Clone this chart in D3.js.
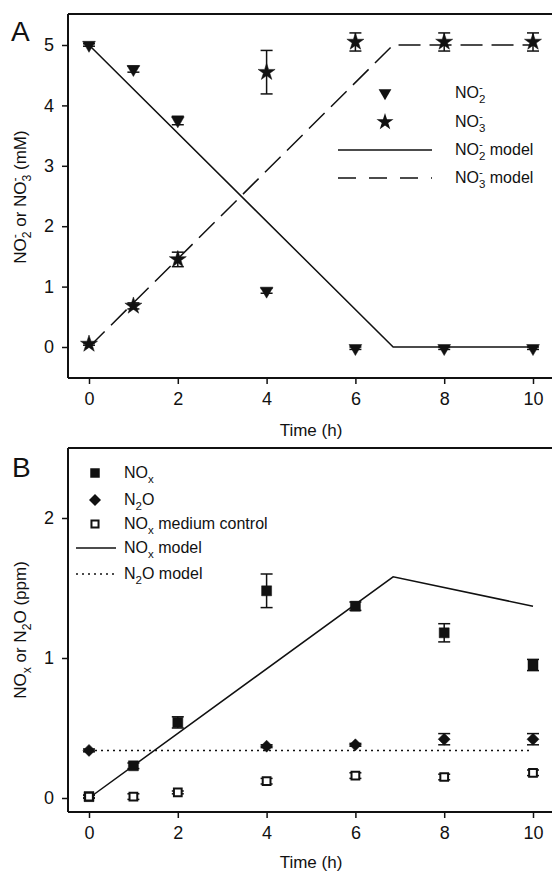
<!DOCTYPE html>
<html>
<head>
<meta charset="utf-8">
<script src="https://cdn.jsdelivr.net/npm/d3@7"></script>
<style>
  body { margin: 0; background: #fff; }
  text { font-family: "Liberation Sans", Arial, sans-serif; fill: #111; }
</style>
</head>
<body>
<script>
var width = 552, height = 872;

// time points (h)
var times = [0, 1, 2, 4, 6, 8, 10];
var xTicks = [0, 2, 4, 6, 8, 10];

// panel A, mM
var no2 = [5.0, 4.6, 3.75, 0.93, -0.02, -0.02, -0.02];
var no2Err = [0.02, 0.05, 0.07, 0.04, 0.02, 0.02, 0.02];
var no3 = [0.05, 0.68, 1.45, 4.55, 5.05, 5.05, 5.05];
var no3Err = [0.02, 0.05, 0.12, 0.36, 0.15, 0.15, 0.15];
var no2ModelT = [0, 6.85, 10];
var no2ModelV = [5, 0, 0];
var no3ModelT = [0, 6.85, 10];
var no3ModelV = [0, 5, 5];
var yTicksA = [0, 1, 2, 3, 4, 5];

// panel B, ppm
var nox = [0.01, 0.23, 0.54, 1.48, 1.37, 1.18, 0.95];
var noxErr = [0.01, 0.02, 0.04, 0.12, 0.03, 0.065, 0.04];
var n2oT = [0, 4, 6, 8, 10];
var n2o = [0.34, 0.37, 0.38, 0.42, 0.42];
var n2oErr = [0.01, 0.01, 0.01, 0.04, 0.04];
var ctrl = [0.01, 0.01, 0.04, 0.12, 0.16, 0.15, 0.18];
var ctrlErr = [0.01, 0.02, 0.01, 0.02, 0.02, 0.02, 0.02];
var noxModelT = [0, 6.85, 10];
var noxModelV = [0, 1.58, 1.37];
var n2oModelT = [0, 10];
var n2oModelV = [0.34, 0.34];
var yTicksB = [0, 1, 2];

var svg = d3.select("body").append("svg")
    .attr("width", width)
    .attr("height", height);

var x = d3.scaleLinear().domain([0, 10]).range([89, 533]);
var yA = d3.scaleLinear().domain([0, 5]).range([347, 45]);
var yB = d3.scaleLinear().domain([0, 2]).range([798, 518]);

function frame(g, top, bottom) {
  g.append("line").attr("x1", 68).attr("x2", width).attr("y1", top).attr("y2", top)
    .attr("stroke", "#111").attr("stroke-width", 2);
  g.append("line").attr("x1", 68).attr("x2", 68).attr("y1", top).attr("y2", bottom)
    .attr("stroke", "#111").attr("stroke-width", 2);
}

function axes(g, y, yTicks, bottom) {
  var xa = g.append("g").attr("transform", "translate(0," + bottom + ")")
    .call(d3.axisBottom(x).tickValues(xTicks).tickSize(6).tickPadding(8).tickFormat(d3.format("d")));
  xa.select(".domain").attr("d", "M68,0H" + width).attr("stroke-width", 2);
  var ya = g.append("g").attr("transform", "translate(68,0)")
    .call(d3.axisLeft(y).tickValues(yTicks).tickSize(6).tickPadding(8).tickFormat(d3.format("d")));
  ya.select(".domain").remove();
  g.selectAll(".tick line").attr("stroke", "#111").attr("stroke-width", 1.5);
  g.selectAll(".tick text").style("font-size", "18px").style("font-family", "Liberation Sans, Arial, sans-serif").attr("fill", "#111");
  g.selectAll(".domain").attr("stroke", "#111");
}

function errorBars(g, ts, vs, es, y) {
  var d = ts.map(function(t, i) { return {t: t, v: vs[i], e: es[i]}; });
  var eb = g.append("g").attr("stroke", "#111").attr("stroke-width", 1.5);
  eb.selectAll(".ev").data(d).enter().append("line")
    .attr("x1", function(d) { return x(d.t); }).attr("x2", function(d) { return x(d.t); })
    .attr("y1", function(d) { return y(d.v + d.e); }).attr("y2", function(d) { return y(d.v - d.e); });
  [1, -1].forEach(function(s) {
    eb.selectAll(".cap" + s).data(d).enter().append("line")
      .attr("x1", function(d) { return x(d.t) - 6; }).attr("x2", function(d) { return x(d.t) + 6; })
      .attr("y1", function(d) { return y(d.v + s * d.e); }).attr("y2", function(d) { return y(d.v + s * d.e); });
  });
}

function points(g, ts, vs, y, sym, size, rot, fill) {
  g.selectAll(null).data(ts).enter().append("path")
    .attr("d", d3.symbol().type(sym).size(size))
    .attr("transform", function(t, i) { return "translate(" + x(t) + "," + y(vs[i]) + ") rotate(" + rot + ")"; })
    .attr("fill", fill ? "#111" : "#fff")
    .attr("stroke", "#111")
    .attr("stroke-width", fill ? 0.5 : 2);
}

function modelLine(g, ts, vs, y, dash) {
  g.append("path")
    .datum(ts.map(function(t, i) { return [t, vs[i]]; }))
    .attr("d", d3.line().x(function(d) { return x(d[0]); }).y(function(d) { return y(d[1]); }))
    .attr("fill", "none").attr("stroke", "#111").attr("stroke-width", 1.5)
    .attr("stroke-dasharray", dash);
}

// chemical label: "sub" lowered, "ion" = superscript minus stacked over the subscript
function chem(t, parts, fs) {
  var small = fs * 0.72, level = 0, back = 0;
  parts.forEach(function(p) {
    var s = t.append("tspan").text(p[0]);
    var target = 0, dx = 0;
    if (p[1] == "sub") { target = fs * 0.3; s.style("font-size", small + "px"); }
    else if (p[1] == "ion") {
      target = -fs * 0.42; s.style("font-size", small + "px");
      dx = -small * 0.56; back = small * (0.56 - 0.34);
    } else { dx = back; back = 0; }
    if (target != level) s.attr("dy", target - level);
    if (dx) s.attr("dx", dx);
    level = target;
  });
}

// ---- panel A ----
var gA = svg.append("g");
frame(gA, 14, 378);
axes(gA, yA, yTicksA, 378);
modelLine(gA, no2ModelT, no2ModelV, yA, null);
modelLine(gA, no3ModelT, no3ModelV, yA, "22,9");
errorBars(gA, times, no2, no2Err, yA);
errorBars(gA, times, no3, no3Err, yA);
points(gA, times, no2, yA, d3.symbolTriangle, 70, 180, true);
points(gA, times, no3, yA, d3.symbolStar, 90, 0, true);

gA.append("text").attr("x", 11).attr("y", 41).style("font-size", "28px").text("A");
gA.append("text").attr("x", 311).attr("y", 436).attr("text-anchor", "middle").style("font-size", "17px").text("Time (h)");
var ytA = gA.append("text").attr("transform", "translate(26,197) rotate(-90)").attr("text-anchor", "middle").style("font-size", "17px");
chem(ytA, [["NO"], ["2", "sub"], ["-", "ion"], [" or NO"], ["3", "sub"], ["-", "ion"], [" (mM)"]], 17);

// legend A
var legA = gA.append("g");
var legAy = [93, 122, 150, 178];
legA.append("path").attr("d", d3.symbol().type(d3.symbolTriangle).size(70))
  .attr("transform", "translate(385," + legAy[0] + ") rotate(180)").attr("fill", "#111");
legA.append("path").attr("d", d3.symbol().type(d3.symbolStar).size(90))
  .attr("transform", "translate(385," + legAy[1] + ")").attr("fill", "#111");
legA.append("line").attr("x1", 338).attr("x2", 432).attr("y1", legAy[2]).attr("y2", legAy[2])
  .attr("stroke", "#111").attr("stroke-width", 1.5);
legA.append("line").attr("x1", 338).attr("x2", 432).attr("y1", legAy[3]).attr("y2", legAy[3])
  .attr("stroke", "#111").attr("stroke-width", 1.5).attr("stroke-dasharray", "18,13");
var legALabels = [
  [["NO"], ["2", "sub"], ["-", "ion"]],
  [["NO"], ["3", "sub"], ["-", "ion"]],
  [["NO"], ["2", "sub"], ["-", "ion"], [" model"]],
  [["NO"], ["3", "sub"], ["-", "ion"], [" model"]]
];
legALabels.forEach(function(p, i) {
  var t = legA.append("text").attr("x", 455).attr("y", legAy[i] + 5).style("font-size", "16px");
  chem(t, p, 16);
});

// ---- panel B ----
var gB = svg.append("g");
frame(gB, 448, 812);
axes(gB, yB, yTicksB, 812);
modelLine(gB, noxModelT, noxModelV, yB, null);
modelLine(gB, n2oModelT, n2oModelV, yB, "2,4");
errorBars(gB, times, nox, noxErr, yB);
errorBars(gB, n2oT, n2o, n2oErr, yB);
errorBars(gB, times, ctrl, ctrlErr, yB);
points(gB, times, nox, yB, d3.symbolSquare, 100, 0, true);
points(gB, n2oT, n2o, yB, d3.symbolSquare, 72, 45, true);
points(gB, times, ctrl, yB, d3.symbolSquare, 60, 0, false);

gB.append("text").attr("x", 12).attr("y", 477).style("font-size", "28px").text("B");
gB.append("text").attr("x", 311).attr("y", 868).attr("text-anchor", "middle").style("font-size", "17px").text("Time (h)");
var ytB = gB.append("text").attr("transform", "translate(26,630) rotate(-90)").attr("text-anchor", "middle").style("font-size", "17px");
chem(ytB, [["NO"], ["x", "sub"], [" or N"], ["2", "sub"], ["O (ppm)"]], 17);

// legend B
var legB = gB.append("g");
var legBy = [473, 500, 524, 548, 574];
legB.append("path").attr("d", d3.symbol().type(d3.symbolSquare).size(90))
  .attr("transform", "translate(95," + legBy[0] + ")").attr("fill", "#111");
legB.append("path").attr("d", d3.symbol().type(d3.symbolSquare).size(72))
  .attr("transform", "translate(95," + legBy[1] + ") rotate(45)").attr("fill", "#111");
legB.append("path").attr("d", d3.symbol().type(d3.symbolSquare).size(50))
  .attr("transform", "translate(95," + legBy[2] + ")").attr("fill", "#fff").attr("stroke", "#111").attr("stroke-width", 2);
legB.append("line").attr("x1", 76).attr("x2", 116).attr("y1", legBy[3]).attr("y2", legBy[3])
  .attr("stroke", "#111").attr("stroke-width", 1.5);
legB.append("line").attr("x1", 76).attr("x2", 116).attr("y1", legBy[4]).attr("y2", legBy[4])
  .attr("stroke", "#111").attr("stroke-width", 1.5).attr("stroke-dasharray", "2,4");
var legBLabels = [
  [["NO"], ["x", "sub"]],
  [["N"], ["2", "sub"], ["O"]],
  [["NO"], ["x", "sub"], [" medium control"]],
  [["NO"], ["x", "sub"], [" model"]],
  [["N"], ["2", "sub"], ["O model"]]
];
legBLabels.forEach(function(p, i) {
  var t = legB.append("text").attr("x", 124).attr("y", legBy[i] + 5).style("font-size", "16px");
  chem(t, p, 16);
});
</script>
</body>
</html>
